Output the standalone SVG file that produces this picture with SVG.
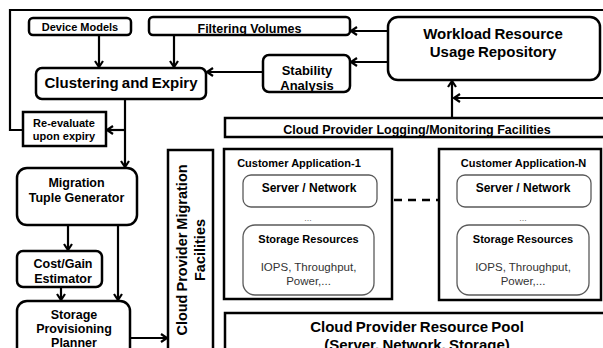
<svg xmlns="http://www.w3.org/2000/svg" width="603" height="348" viewBox="0 0 603 348">
  <style>
    .box{fill:#fff;stroke:#000;stroke-width:2.5}
    .sub{fill:#fff;stroke:#5a5a5a;stroke-width:1.3}
    .wire{fill:none;stroke:#000;stroke-width:2.2}
    .dash{fill:none;stroke:#000;stroke-width:2.6;stroke-dasharray:8 6}
    text{font-family:"Liberation Sans",Arial,sans-serif;font-weight:bold;fill:#000;text-anchor:middle}
    .reg{font-weight:normal;fill:#333}
    .f11{font-size:11px}
    .f12{font-size:12px}
    .f125{font-size:12.5px}
    .f13{font-size:13px}
    .f15{font-size:15px;word-spacing:-1px}
  </style>
  <defs>
    <marker id="arr" markerUnits="userSpaceOnUse" markerWidth="10" markerHeight="10" refX="7" refY="5" orient="auto">
      <path d="M1,1 L7,5 L1,9" fill="none" stroke="#000" stroke-width="2.2"/>
    </marker>
  </defs>

  <rect width="603" height="348" fill="#fff"/>

  <!-- connectors -->
  <g id="connectors">
    <polyline class="wire" points="23,130 10,130 10,10 603,10"/>
    <line class="wire" x1="99" y1="35" x2="99" y2="67" marker-end="url(#arr)"/>
    <line class="wire" x1="174" y1="35" x2="174" y2="67" marker-end="url(#arr)"/>
    <line class="wire" x1="388" y1="31" x2="351" y2="31" marker-end="url(#arr)"/>
    <line class="wire" x1="388" y1="62" x2="351" y2="62" marker-end="url(#arr)"/>
    <line class="wire" x1="263" y1="72" x2="207" y2="72" marker-end="url(#arr)"/>
    <line class="wire" x1="125" y1="99" x2="125" y2="167" marker-end="url(#arr)"/>
    <line class="wire" x1="125" y1="130" x2="107" y2="130" marker-end="url(#arr)"/>
    <line class="wire" x1="68" y1="225" x2="68" y2="250" marker-end="url(#arr)"/>
    <line class="wire" x1="118" y1="225" x2="118" y2="300" marker-end="url(#arr)"/>
    <line class="wire" x1="61" y1="287" x2="61" y2="300" marker-end="url(#arr)"/>
    <line class="wire" x1="130" y1="338" x2="167" y2="338" marker-end="url(#arr)"/>
    <line class="wire" x1="452" y1="118" x2="452" y2="81" marker-end="url(#arr)"/>
    <line class="wire" x1="603" y1="98" x2="454" y2="98" marker-end="url(#arr)"/>
    <line class="dash" x1="394" y1="200" x2="438" y2="200"/>
  </g>

  <g id="device-models">
    <rect class="box" x="29" y="18" width="102" height="17" rx="4"/>
    <text class="f11" x="80" y="31">Device Models</text>
  </g>

  <g id="filtering-volumes">
    <rect class="box" x="149" y="17" width="201" height="18" rx="4"/>
    <text class="f125" x="249.5" y="33">Filtering Volumes</text>
  </g>

  <g id="workload-repository">
    <rect class="box" x="388" y="17" width="212" height="63" rx="10"/>
    <text class="f15" x="493" y="39">Workload Resource</text>
    <text class="f15" x="493" y="57">Usage Repository</text>
  </g>

  <g id="stability-analysis">
    <rect class="box" x="263" y="55" width="87" height="37" rx="6"/>
    <text class="f13" x="307" y="74.5">Stability</text>
    <text class="f13" x="307" y="90">Analysis</text>
  </g>

  <g id="clustering-expiry">
    <rect class="box" x="36" y="68" width="170" height="31" rx="6"/>
    <text class="f15" x="121" y="87.5">Clustering and Expiry</text>
  </g>

  <g id="re-evaluate">
    <rect class="box" x="23" y="112" width="83" height="34"/>
    <text class="f11" x="64" y="127">Re-evaluate</text>
    <text class="f11" x="64" y="139.5">upon expiry</text>
  </g>

  <g id="migration-tuple-generator">
    <rect class="box" x="17" y="168" width="120" height="57" rx="10"/>
    <text class="f125" x="76.5" y="187">Migration</text>
    <text class="f125" x="76.5" y="202">Tuple Generator</text>
  </g>

  <g id="cost-gain-estimator">
    <rect class="box" x="17" y="251" width="85" height="36" rx="6"/>
    <text class="f125" x="63" y="268">Cost/Gain</text>
    <text class="f125" x="63" y="283">Estimator</text>
  </g>

  <g id="storage-provisioning-planner">
    <rect class="box" x="17" y="301" width="113" height="62" rx="10"/>
    <text class="f125" x="74" y="319">Storage</text>
    <text class="f125" x="74" y="333">Provisioning</text>
    <text class="f125" x="74" y="347">Planner</text>
  </g>

  <g id="migration-facilities">
    <rect class="box" x="168" y="150" width="45" height="215"/>
    <text style="font-size:14.5px;word-spacing:-1px" transform="translate(187,250) rotate(-90)">Cloud Provider Migration</text>
    <text style="font-size:14.5px" transform="translate(205,250) rotate(-90)">Facilities</text>
  </g>

  <g id="logging-monitoring">
    <rect class="box" x="225" y="118" width="390" height="19"/>
    <text class="f125" x="417" y="134">Cloud Provider Logging/Monitoring Facilities</text>
  </g>

  <g id="customer-application-1">
    <rect class="box" x="224" y="149" width="168" height="150"/>
    <text class="f11" x="299" y="167">Customer Application-1</text>
    <rect class="sub" x="243" y="175" width="134" height="32" rx="8"/>
    <text class="f12" x="309" y="192">Server / Network</text>
    <text class="reg" style="font-size:9px;fill:#777" x="308" y="221">...</text>
    <rect class="sub" x="243" y="225" width="131" height="70" rx="12"/>
    <text class="f11" x="308.5" y="243">Storage Resources</text>
    <text class="reg" style="font-size:11.5px" x="308.5" y="271">IOPS, Throughput,</text>
    <text class="reg" style="font-size:11.5px" x="308.5" y="285">Power,...</text>
  </g>

  <g id="customer-application-n">
    <rect class="box" x="439" y="149" width="162" height="151"/>
    <text class="f11" x="523.5" y="167">Customer Application-N</text>
    <rect class="sub" x="457" y="175" width="134" height="32" rx="8"/>
    <text class="f12" x="523" y="192">Server / Network</text>
    <text class="reg" style="font-size:9px;fill:#777" x="523" y="221">...</text>
    <rect class="sub" x="457" y="225" width="132" height="70" rx="12"/>
    <text class="f11" x="523" y="243">Storage Resources</text>
    <text class="reg" style="font-size:11.5px" x="523" y="271">IOPS, Throughput,</text>
    <text class="reg" style="font-size:11.5px" x="523" y="285">Power,...</text>
  </g>

  <g id="resource-pool">
    <rect class="box" x="225" y="313" width="390" height="50"/>
    <text class="f15" x="417" y="332">Cloud Provider Resource Pool</text>
    <text class="f15" x="417" y="350">(Server, Network, Storage)</text>
  </g>
</svg>
